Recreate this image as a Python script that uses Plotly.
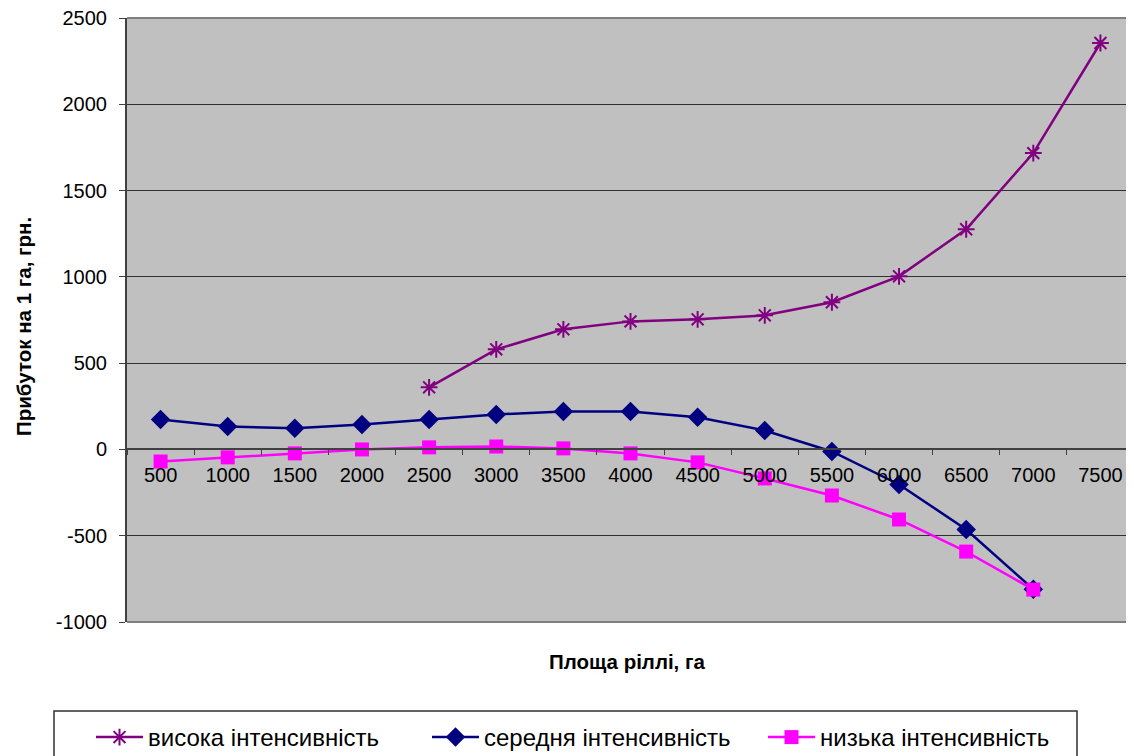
import plotly.graph_objects as go

areas = ["500", "1000", "1500", "2000", "2500", "3000", "3500", "4000",
         "4500", "5000", "5500", "6000", "6500", "7000", "7500"]
high = [None, None, None, None, 360, 580, 696, 742, 754, 777, 853, 1003, 1276, 1717, 2355]
medium = [174, 133, 122, 145, 174, 203, 220, 220, 186, 110, -12, -203, -464, -810, None]
low = [-70, -46, -23, 0, 12, 17, 6, -23, -75, -168, -267, -406, -592, -812, None]

names = ["висока інтенсивність", "середня інтенсивність", "низька інтенсивність"]
y_ticks = [-1000, -500, 0, 500, 1000, 1500, 2000, 2500]
y_ticktext = ["-1000", "-500", "0", "500", "1000", "1500", "2000", "2500"]

fig = go.Figure()
fig.add_trace(go.Scatter(x=areas, y=high, name=names[0], mode="lines+markers",
                         line=dict(color="#800080", width=2.5),
                         marker=dict(symbol="asterisk-open", size=14,
                                     line=dict(color="#800080", width=2))))
fig.add_trace(go.Scatter(x=areas, y=medium, name=names[1], mode="lines+markers",
                         line=dict(color="#000080", width=2.5),
                         marker=dict(symbol="diamond", size=15, color="#000080")))
fig.add_trace(go.Scatter(x=areas, y=low, name=names[2], mode="lines+markers",
                         line=dict(color="#FF00FF", width=2.5),
                         marker=dict(symbol="square", size=14, color="#FF00FF")))

font = "Liberation Sans, Arial, sans-serif"
OFF = 8  # page body margin
L, T, B = 127 - OFF, 18 - OFF, 134
W, H = 1134 - OFF, 756 - OFF
pw, ph = W - L, H - T - B


def px_x(x):
    return (x - OFF - L) / pw


def px_y(y):
    return (H - B - (y - OFF)) / ph


fig.update_layout(
    width=W, height=H,
    margin=dict(l=L, r=0, t=T, b=B, autoexpand=False),
    paper_bgcolor="white", plot_bgcolor="#C0C0C0",
    font=dict(family=font, size=20, color="black"),
    showlegend=True,
    legend=dict(orientation="h", x=px_x(91), y=px_y(715), xanchor="left", yanchor="top",
                borderwidth=0, bgcolor="rgba(0,0,0,0)",
                font=dict(size=24), entrywidth=274, entrywidthmode="pixels",
                itemwidth=47),
    xaxis=dict(type="category", range=[-0.5, 14.5], anchor="free",
               position=1000 / 3500, showline=True, linecolor="#404040", linewidth=1.5,
               ticks="outside", ticklen=5, tickcolor="#404040", tickson="boundaries",
               ticklabelstandoff=8,
               showgrid=False, zeroline=False, tickfont=dict(size=20)),
    yaxis=dict(range=[-1000, 2500], tickvals=y_ticks, ticktext=y_ticktext, showline=True,
               linecolor="#404040", linewidth=2, ticks="outside", ticklen=6,
               tickcolor="#404040", showgrid=True, gridcolor="#303030", gridwidth=1,
               ticklabelstandoff=8, ticklabeloverflow="allow",
               zeroline=False, tickfont=dict(size=20)),
    annotations=[
        dict(text="<b>Площа ріллі, га</b>", x=px_x(627), y=px_y(662),
             xref="paper", yref="paper", showarrow=False,
             font=dict(size=20.5), xanchor="center", yanchor="middle"),
        dict(text="<b>Прибуток на 1 га, грн.</b>", x=px_x(23), y=px_y(327),
             xref="paper", yref="paper", showarrow=False, textangle=-90,
             font=dict(size=20.5), xanchor="center", yanchor="middle"),
    ],
    shapes=[
        dict(type="line", xref="paper", yref="paper", x0=0, x1=1, y0=1, y1=1,
             line=dict(color="#808080", width=2), layer="above"),
        dict(type="line", xref="paper", yref="paper", x0=0, x1=1, y0=0, y1=0,
             line=dict(color="#808080", width=2), layer="above"),
        dict(type="rect", xref="paper", yref="paper", x0=px_x(54), x1=px_x(1077),
             y0=px_y(711), y1=px_y(790), line=dict(color="#303030", width=1.5),
             layer="below"),
    ],
)
fig.write_html("out.html")
